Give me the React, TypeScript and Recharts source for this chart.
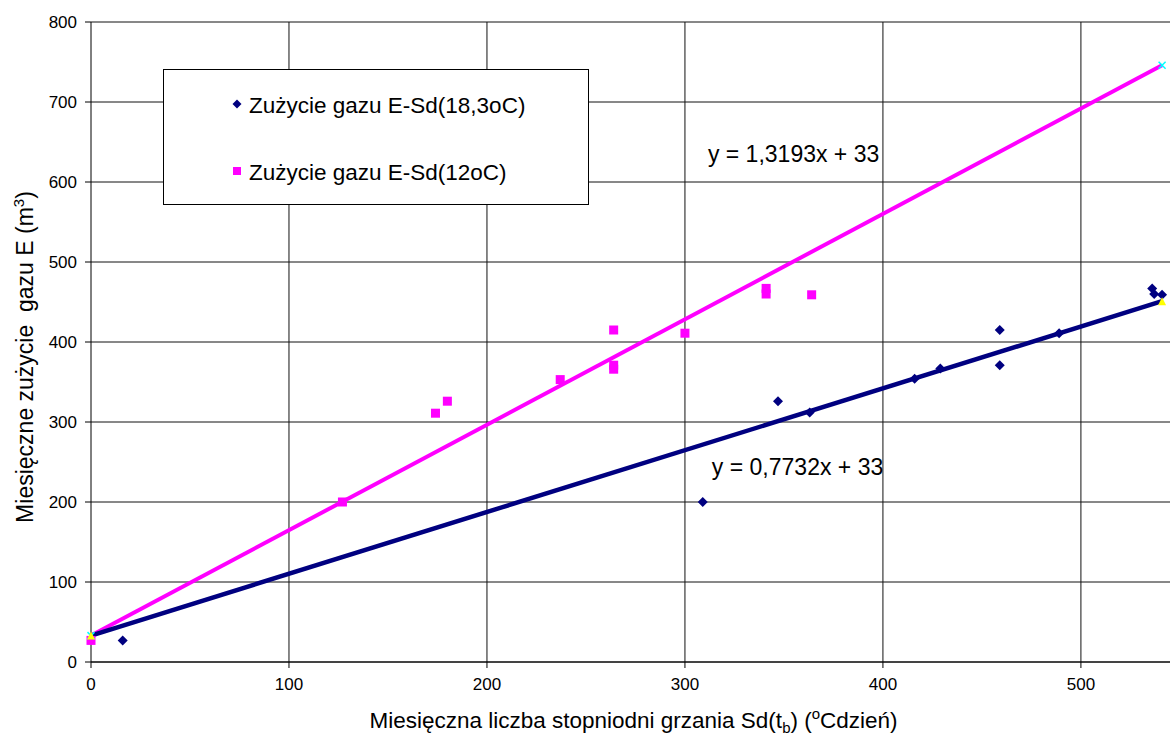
import React from 'react';
import { ComposedChart, Scatter, Line, XAxis, YAxis, CartesianGrid, Legend, ReferenceDot, ReferenceLine } from 'recharts';

// Series: Zużycie gazu E-Sd(18,3oC)
const sd183X = [16, 309, 347, 363, 416, 429, 459, 459, 489, 536, 537, 541];
const sd183Y = [27, 200, 326, 312, 354, 367, 415, 371, 411, 467, 460, 459];
// Series: Zużycie gazu E-Sd(12oC)
const sd12X = [0, 127, 174, 180, 237, 264, 264, 264, 300, 341, 341, 364];
const sd12Y = [27, 200, 311, 326, 353, 415, 371, 366, 411, 467, 460, 459];
// Trend lines (end points)
const trendX = [0, 541];
const trend183Y = [33, 451];
const trend12Y = [33, 746];

const xTicks = [0, 100, 200, 300, 400, 500];
const yTicks = [0, 100, 200, 300, 400, 500, 600, 700, 800];

const seriesNames = ['Zużycie gazu E-Sd(18,3oC)', 'Zużycie gazu E-Sd(12oC)'];
const eqTexts = ['y = 0,7732x + 33', 'y = 1,3193x + 33'];

const NAVY = '#000080';
const MAGENTA = '#FF00FF';
const GRID = '#111';
const FONT = '"Liberation Sans", Arial, sans-serif';

const data183 = sd183X.map((x, i) => ({ x, y: sd183Y[i] }));
const data12 = sd12X.map((x, i) => ({ x, y: sd12Y[i] }));
const trend183 = trendX.map((x, i) => ({ x, y: trend183Y[i] }));
const trend12 = trendX.map((x, i) => ({ x, y: trend12Y[i] }));

const Diamond = (p: any) => {
  const { cx, cy } = p;
  const r = 5;
  return <polygon points={`${cx},${cy - r} ${cx + r},${cy} ${cx},${cy + r} ${cx - r},${cy}`} fill={NAVY} />;
};
const Square = (p: any) => <rect x={p.cx - 4.5} y={p.cy - 4.5} width={9} height={9} fill={MAGENTA} />;

const CyanX = (p: any) => {
  const { cx, cy, index } = p;
  const r = 3.5;
  return (
    <g key={`cx${index}`}>
      <line x1={cx - r} y1={cy - r} x2={cx + r} y2={cy + r} stroke="#00FFFF" strokeWidth={1.5} />
      <line x1={cx - r} y1={cy + r} x2={cx + r} y2={cy - r} stroke="#00FFFF" strokeWidth={1.5} />
    </g>
  );
};
const YellowTri = (p: any) => {
  const { cx, cy, index } = p;
  const r = 4;
  return <polygon key={`yt${index}`} points={`${cx},${cy - r} ${cx + r},${cy + r} ${cx - r},${cy + r}`} fill="#FFFF00" />;
};

const LegendBox = () => (
  <svg width={426} height={136} style={{ display: 'block' }}>
    <rect x={0.5} y={0.5} width={425} height={135} fill="#fff" stroke="#000" strokeWidth={1} />
    <polygon points="74,30.5 78.5,35 74,39.5 69.5,35" fill={NAVY} />
    <text x={86} y={44} fontFamily={FONT} fontSize={22.5} fill="#000">{seriesNames[0]}</text>
    <rect x={70} y={98} width={8} height={8} fill={MAGENTA} />
    <text x={86} y={111} fontFamily={FONT} fontSize={22.5} fill="#000">{seriesNames[1]}</text>
  </svg>
);

const eqLabel = (text: string) => (props: any) => {
  const vb = props.viewBox || {};
  return (
    <text x={vb.x} y={vb.y} fontFamily={FONT} fontSize={23} fill="#000" textAnchor="start">
      {text}
    </text>
  );
};

const XLabel = (props: any) => {
  const vb = props.viewBox;
  return (
    <text x={vb.x + vb.width / 2 + 3} y={vb.y + 66} fontFamily={FONT} fontSize={22.5} fill="#000" textAnchor="middle">
      Miesięczna liczba stopniodni grzania Sd(t
      <tspan fontSize={15} dy={5}>b</tspan>
      <tspan dy={-5}>) (</tspan>
      <tspan fontSize={15} dy={-9}>o</tspan>
      <tspan dy={9}>Cdzień)</tspan>
    </text>
  );
};

const YLabel = () => (
  <text
    x={33}
    y={357}
    transform="rotate(-90 33 357)"
    fontFamily={FONT}
    fontSize={23}
    fill="#000"
    textAnchor="middle"
    style={{ whiteSpace: 'pre' }}
  >
    {'Miesięczne zużycie  gazu E (m'}
    <tspan fontSize={15} dy={-9}>3</tspan>
    <tspan dy={9}>)</tspan>
  </text>
);

function XLabelWrap(props: any) {
  return <XLabel {...props} />;
}

export default function App() {
  return (
    <div style={{ position: 'absolute', left: 0, top: 0, width: 1170, height: 738, background: '#fff' }}>
      <ComposedChart width={1170} height={738} margin={{ top: 22, right: 0, bottom: 0, left: 0 }}>
        <CartesianGrid stroke={GRID} strokeWidth={1} vertical={false} />
        {xTicks.filter((t) => t > 0).map((t) => (
          <ReferenceLine key={`v${t}`} x={t} stroke={GRID} strokeWidth={1} />
        ))}
        <XAxis
          type="number"
          dataKey="x"
          domain={[0, 545]}
          ticks={xTicks}
          height={76}
          tickSize={6}
          tickMargin={10}
          stroke="#000"
          tick={{ fill: '#000', fontSize: 17, fontFamily: FONT }}
          label={<XLabelWrap />}
        />
        <YAxis
          type="number"
          dataKey="y"
          domain={[0, 800]}
          ticks={yTicks}
          width={91}
          tickSize={6}
          tickMargin={8}
          stroke="#000"
          tick={{ fill: '#000', fontSize: 17, fontFamily: FONT }}
          label={<YLabel />}
        />
        <Line data={trend12} dataKey="y" stroke={MAGENTA} strokeWidth={4} dot={CyanX} activeDot={false} isAnimationActive={false} legendType="none" />
        <Line data={trend183} dataKey="y" stroke={NAVY} strokeWidth={4.5} dot={YellowTri} activeDot={false} isAnimationActive={false} legendType="none" />
        <Scatter data={data183} dataKey="y" name={seriesNames[0]} shape={Diamond} isAnimationActive={false} />
        <Scatter data={data12} dataKey="y" name={seriesNames[1]} shape={Square} isAnimationActive={false} />
        <ReferenceDot x={311.6} y={625} r={0} stroke="none" fill="none" label={eqLabel(eqTexts[1])} />
        <ReferenceDot x={313.6} y={233.75} r={0} stroke="none" fill="none" label={eqLabel(eqTexts[0])} />
        <Legend
          layout="vertical"
          align="center"
          verticalAlign="middle"
          content={() => <LegendBox />}
          wrapperStyle={{ position: 'absolute', left: 163, top: 69, width: 426, height: 136 }}
        />
      </ComposedChart>
    </div>
  );
}
